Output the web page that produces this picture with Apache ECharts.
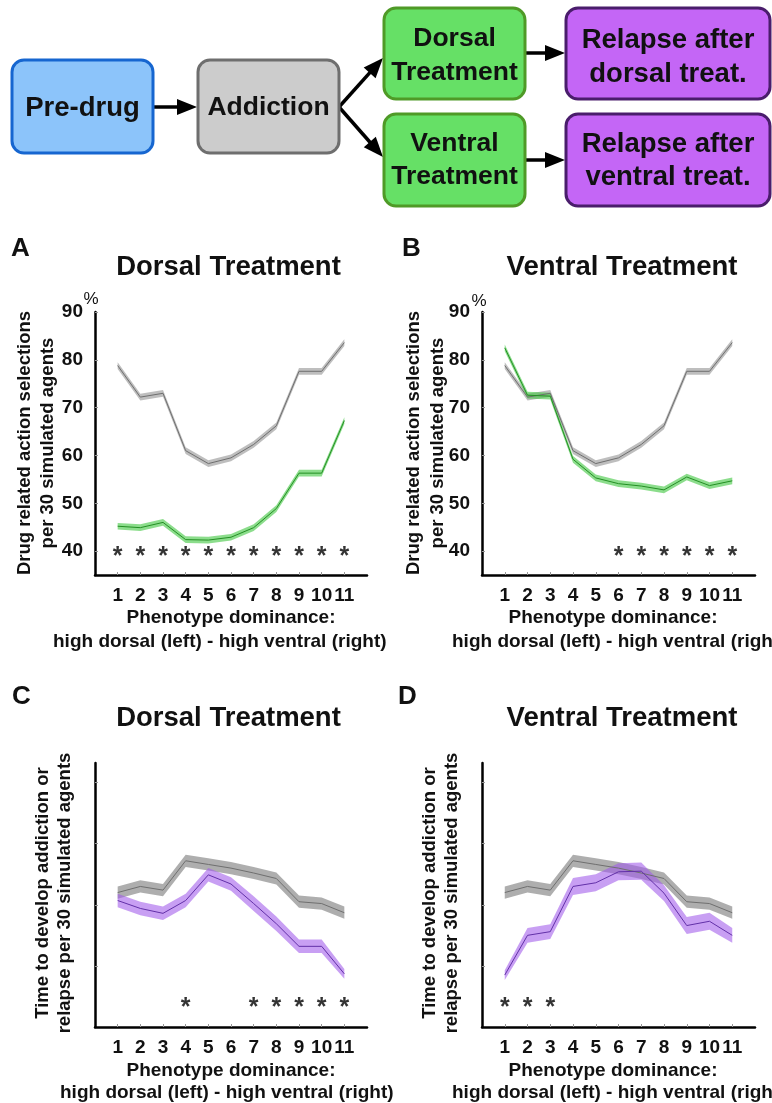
<!DOCTYPE html>
<html><head><meta charset="utf-8">
<script src="https://cdn.jsdelivr.net/npm/echarts@6/dist/echarts.min.js"></script>
<style>html,body{margin:0;padding:0;background:#fff}#c{width:772px;height:1103px}</style>
</head><body><div id="c"></div>
<script>
// ---------- data ----------
const phenotypes = ['1','2','3','4','5','6','7','8','9','10','11'];
const selTicks = [40, 50, 60, 70, 80, 90];
const timeTicks = [1, 2, 3, 4];

// A/B: drug related action selections (%)
const addictionSel    = [78.8, 72.2, 73.0, 61.0, 58.3, 59.5, 62.3, 66.2, 77.6, 77.6, 83.6];
const addictionSelSe  = [0.7, 0.7, 0.7, 0.7, 0.7, 0.7, 0.7, 0.7, 0.7, 0.7, 0.7];
const dorsalSel       = [45.2, 44.9, 46.0, 42.4, 42.3, 42.9, 44.9, 48.9, 56.3, 56.3, 67.3];
const dorsalSelSe     = [0.7, 0.7, 0.7, 0.7, 0.7, 0.7, 0.7, 0.7, 0.7, 0.7, 0.7];
const ventralSel      = [82.5, 72.6, 72.4, 59.2, 55.3, 54.1, 53.6, 52.8, 55.5, 53.7, 54.7];
const ventralSelSe    = [0.7, 0.7, 0.7, 0.7, 0.7, 0.7, 0.7, 0.7, 0.7, 0.7, 0.7];

// C/D: time to develop addiction or relapse (unlabelled units)
const addictionTime   = [2.20, 2.30, 2.24, 2.72, 2.66, 2.60, 2.52, 2.43, 2.05, 2.02, 1.87];
const addictionTimeSe = [0.10, 0.10, 0.10, 0.10, 0.10, 0.10, 0.10, 0.10, 0.10, 0.10, 0.10];
const dorsalRelapse   = [2.07, 1.94, 1.86, 2.07, 2.49, 2.34, 2.02, 1.69, 1.32, 1.32, 0.87];
const dorsalRelSe     = [0.11, 0.11, 0.11, 0.11, 0.11, 0.11, 0.12, 0.12, 0.11, 0.11, 0.08];
const ventralRelapse  = [0.85, 1.50, 1.56, 2.30, 2.36, 2.54, 2.55, 2.19, 1.66, 1.73, 1.50];
const ventralRelSe    = [0.08, 0.12, 0.12, 0.14, 0.14, 0.14, 0.14, 0.13, 0.14, 0.14, 0.12];

// significance asterisks (phenotype numbers)
const sigA = [1, 2, 3, 4, 5, 6, 7, 8, 9, 10, 11];
const sigB = [6, 7, 8, 9, 10, 11];
const sigC = [4, 7, 8, 9, 10, 11];
const sigD = [1, 2, 3];
const starSel = 40;
const starTime = 0.4;

// ---------- styling ----------
const FF = '"Liberation Sans", Arial, sans-serif';
const GREY_BAND = 'rgba(150,150,150,0.62)', GREY_LINE = '#6f6f6f';
const GREY_BAND2 = 'rgba(135,135,135,0.68)';
const GREEN_BAND = 'rgba(70,200,70,0.62)', GREEN_LINE = '#248f24';
const PURPLE_BAND = 'rgba(160,90,235,0.58)', PURPLE_LINE = '#6230a8';

const xCats = [''].concat(phenotypes, ['']);
const pad = a => [null].concat(a, [null]);

const chart = echarts.init(document.getElementById('c'), null, {renderer: 'canvas'});

const grids = [
  {left: 95, top: 312, width: 272, height: 263},
  {left: 482, top: 312, width: 273, height: 263},
  {left: 95, top: 763, width: 272, height: 264},
  {left: 482, top: 763, width: 273, height: 264}
];

const xAxes = grids.map((g, i) => ({
  type: 'category', gridIndex: i, data: xCats, boundaryGap: false,
  axisLine: {lineStyle: {color: '#000', width: 2.5}},
  axisTick: {inside: true, length: 3, lineStyle: {color: '#999', width: 1},
             interval: (idx) => idx > 0 && idx < xCats.length - 1},
  axisLabel: {interval: 0, fontSize: 19, fontWeight: 'bold', color: '#111', fontFamily: FF, margin: 11},
  splitLine: {show: false}
}));

const yAxes = [0, 1, 2, 3].map(i => {
  const sel = i < 2;
  return {
    type: 'value', gridIndex: i,
    min: sel ? 35 : 0, max: sel ? 90 : 4.32,
    axisLine: {show: true, onZero: false, lineStyle: {color: '#000', width: 2.5}},
    axisTick: {show: true, inside: true, length: 3, lineStyle: {color: '#999', width: 1},
               customValues: sel ? selTicks : timeTicks},
    axisLabel: {show: sel, fontSize: 19, fontWeight: 'bold', color: '#111', fontFamily: FF, margin: 12,
                customValues: sel ? selTicks : timeTicks},
    splitLine: {show: false}
  };
});

function band(idx, mean, se, fill, line, name) {
  const lower = mean.map((m, k) => +(m - se[k]).toFixed(3));
  const width = se.map(s => +(2 * s).toFixed(3));
  return [
    {type: 'line', xAxisIndex: idx, yAxisIndex: idx, data: pad(lower), stack: name, symbol: 'none',
     lineStyle: {opacity: 0}, silent: true, z: 2},
    {type: 'line', xAxisIndex: idx, yAxisIndex: idx, data: pad(width), stack: name, symbol: 'none',
     lineStyle: {opacity: 0}, areaStyle: {color: fill, opacity: 1}, silent: true, z: 2},
    {type: 'line', xAxisIndex: idx, yAxisIndex: idx, data: pad(mean), symbol: 'none',
     lineStyle: {color: line, width: 1}, silent: true, z: 3}
  ];
}
function stars(idx, sig, y) {
  return {type: 'scatter', xAxisIndex: idx, yAxisIndex: idx, data: sig.map(p => [p, y]),
    symbolSize: 1, itemStyle: {color: 'rgba(0,0,0,0)'}, silent: true, z: 5,
    label: {show: true, formatter: '*', position: 'inside', fontSize: 25, fontWeight: 'bold',
            color: '#000', fontFamily: FF, offset: [0, 6]}};
}

const series = [].concat(
  band(0, addictionSel, addictionSelSe, GREY_BAND, GREY_LINE, 'a0'),
  band(0, dorsalSel, dorsalSelSe, GREEN_BAND, GREEN_LINE, 'b0'),
  [stars(0, sigA, starSel)],
  band(1, addictionSel, addictionSelSe, GREY_BAND, GREY_LINE, 'a1'),
  band(1, ventralSel, ventralSelSe, GREEN_BAND, GREEN_LINE, 'b1'),
  [stars(1, sigB, starSel)],
  band(2, addictionTime, addictionTimeSe, GREY_BAND2, GREY_LINE, 'a2'),
  band(2, dorsalRelapse, dorsalRelSe, PURPLE_BAND, PURPLE_LINE, 'b2'),
  [stars(2, sigC, starTime)],
  band(3, addictionTime, addictionTimeSe, GREY_BAND2, GREY_LINE, 'a3'),
  band(3, ventralRelapse, ventralRelSe, PURPLE_BAND, PURPLE_LINE, 'b3'),
  [stars(3, sigD, starTime)]
);

// ---------- graphic: flow chart & text ----------
const G = [];
function box(x, y, w, h, fill, stroke) {
  G.push({type: 'rect', shape: {x: x, y: y, width: w, height: h, r: 12},
          style: {fill: fill, stroke: stroke, lineWidth: 3}, z: 10});
}
function txt(s, x, y, size, opts) {
  opts = opts || {};
  G.push({type: 'text', x: x, y: y, rotation: opts.rot || 0, z: 20,
    style: {text: s, font: (opts.weight || 'bold') + ' ' + size + 'px ' + FF,
            fill: opts.color || '#111', align: opts.align || 'center', verticalAlign: 'middle'}});
}
function arrow(x1, y1, x2, y2) {
  const L = 20, W = 8;
  const d = Math.hypot(x2 - x1, y2 - y1), dx = (x2 - x1) / d, dy = (y2 - y1) / d;
  const bx = x2 - L * dx, by = y2 - L * dy;
  G.push({type: 'line', shape: {x1: x1, y1: y1, x2: bx + dx * 2, y2: by + dy * 2},
          style: {stroke: '#000', lineWidth: 3.5}, z: 9});
  G.push({type: 'polygon', shape: {points: [[x2, y2], [bx - W * dy, by + W * dx], [bx + W * dy, by - W * dx]]},
          style: {fill: '#000'}, z: 9});
}

box(12, 60, 141, 93, '#8cc4fa', '#1666d0');
box(198, 60, 141, 93, '#cccccc', '#6e6e6e');
box(384, 8, 141, 91, '#66e066', '#4f9a27');
box(384, 114, 141, 92, '#66e066', '#4f9a27');
box(566, 8, 204, 91, '#c466f6', '#4a1d6c');
box(566, 114, 204, 92, '#c466f6', '#4a1d6c');
arrow(153, 107, 197, 107);
arrow(339, 107, 383, 58);
arrow(339, 107, 383, 157);
arrow(525, 53, 565, 53);
arrow(525, 160, 565, 160);

txt('Pre-drug', 82.5, 108, 27.5);
txt('Addiction', 268.5, 108, 26.5);
txt('Dorsal', 454.5, 39, 26.5);
txt('Treatment', 454.5, 73, 26.5);
txt('Ventral', 454.5, 144, 26.5);
txt('Treatment', 454.5, 177, 26.5);
txt('Relapse after', 668, 40, 27.5);
txt('dorsal treat.', 668, 74, 27.5);
txt('Relapse after', 668, 144, 27.5);
txt('ventral treat.', 668, 177, 27.5);

// panel letters and titles
txt('A', 11, 249, 26, {align: 'left'});
txt('B', 402, 249, 26, {align: 'left'});
txt('C', 12, 697, 26, {align: 'left'});
txt('D', 398, 697, 26, {align: 'left'});
txt('Dorsal Treatment', 228.5, 267, 27.5);
txt('Ventral Treatment', 622, 267, 27.5);
txt('Dorsal Treatment', 228.5, 718, 27.5);
txt('Ventral Treatment', 622, 718, 27.5);

// % marks
txt('%', 91, 299, 17, {weight: 'normal'});
txt('%', 479, 301, 17, {weight: 'normal'});

// y-axis titles
const R = Math.PI / 2;
txt('Drug related action selections', 25, 443, 18.5, {rot: R});
txt('per 30 simulated agents', 48, 443, 18.5, {rot: R});
txt('Drug related action selections', 414, 443, 18.5, {rot: R});
txt('per 30 simulated agents', 438, 443, 18.5, {rot: R});
txt('Time to develop addiction or', 43, 893, 18.5, {rot: R});
txt('relapse per 30 simulated agents', 65, 893, 18.5, {rot: R});
txt('Time to develop addiction or', 430, 893, 18.5, {rot: R});
txt('relapse per 30 simulated agents', 452, 893, 18.5, {rot: R});

// x-axis titles
txt('Phenotype dominance:', 231, 618, 19);
txt('high dorsal (left) - high ventral (right)', 53, 642, 19, {align: 'left'});
txt('Phenotype dominance:', 613, 618, 19);
txt('high dorsal (left) - high ventral (right)', 452, 642, 19, {align: 'left'});
txt('Phenotype dominance:', 231, 1071, 19);
txt('high dorsal (left) - high ventral (right)', 60, 1093, 19, {align: 'left'});
txt('Phenotype dominance:', 613, 1071, 19);
txt('high dorsal (left) - high ventral (right)', 452, 1093, 19, {align: 'left'});

chart.setOption({
  animation: false,
  backgroundColor: '#ffffff',
  grid: grids.map(g => Object.assign({containLabel: false, outerBoundsMode: 'none'}, g)),
  xAxis: xAxes,
  yAxis: yAxes,
  series: series,
  graphic: {elements: G}
});
</script></body></html>
